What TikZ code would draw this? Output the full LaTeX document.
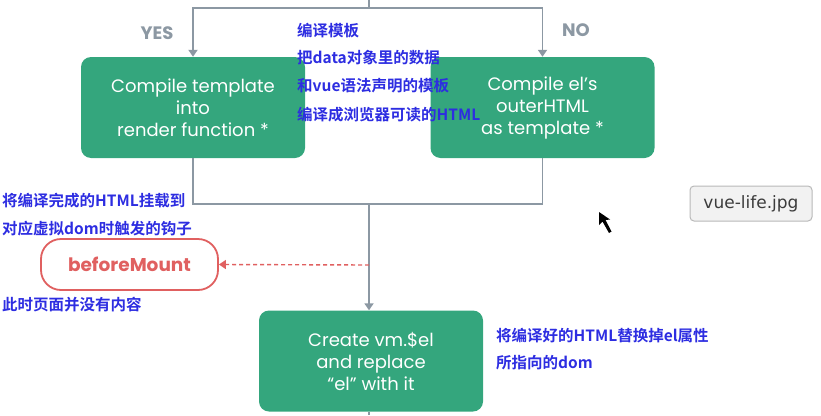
\documentclass[tikz,border=0pt]{standalone}
\usepackage{fontspec}
\setmainfont{Poppins}
\newfontfamily\cjk{Noto Sans CJK SC}[BoldFont={* Bold}]
\newfontfamily\tipfont{DejaVu Sans}
\usetikzlibrary{arrows.meta}
\definecolor{vgreen}{RGB}{52,166,125}
\definecolor{vgray}{RGB}{140,152,163}
\definecolor{vred}{RGB}{224,96,96}
\definecolor{vblue}{RGB}{45,45,225}
\tikzset{
  box/.style={draw=none, fill=vgreen, rounded corners=10pt, minimum width=224pt, minimum height=101pt, text=white, align=center, font=\fontsize{18}{22}\selectfont, inner sep=0pt},
  flow/.style={draw=vgray, line width=1.8pt},
  flowarr/.style={flow, -{Triangle[width=9pt,length=7pt]}},
  note/.style={anchor=west, inner sep=0pt, text=vblue, font=\cjk\bfseries\fontsize{15.5}{18}\selectfont},
  lbl/.style={text=vgray, font=\bfseries\fontsize{18}{20}\selectfont, inner sep=0pt},
  hook/.style={draw=vred, line width=1.8pt, fill=white, rounded corners=20pt, minimum width=177pt, minimum height=51pt, text=vred, font=\bfseries\fontsize{18.5}{20}\selectfont},
}
\begin{document}
\begin{tikzpicture}[x=1pt,y=-1pt]
\useasboundingbox (0,0) rectangle (821,415);
% boxes
\node[box] (ctpl) at (193,107.5) {Compile template\\into\\render function *};
\node[box] (cel) at (542.5,107.5) {Compile el’s\\outerHTML\\as template *};
\node[box] (cvm) at (371,361) {Create vm.\$el\\and replace\\“el” with it};
\node[hook] (bm) at (129.5,264.5) {beforeMount};
% labels
\node[lbl] (yes) at (157,33) {YES};
\node[lbl] (no) at (576,30) {NO};
% connectors
\coordinate (top) at (369,0);
\coordinate (split) at (369,8);
\coordinate (join) at (369,204);
\coordinate (bot) at (369,415);
\coordinate (tap) at (369,265);
\draw[flow] (top) -- (split);
\draw[flowarr] (split) -| (ctpl.north);
\draw[flowarr] (split) -| (cel.north);
\draw[flow] (ctpl.south) |- (join);
\draw[flow] (cel.south) |- (join);
\draw[flowarr] (join) -- (cvm.north -| join);
\draw[flow] (cvm.south -| join) -- (bot);
\draw[draw=vred, line width=1.4pt, dash pattern=on 4pt off 3pt, -{Triangle[width=9pt,length=7pt]}] (tap) -- (bm.east);
% notes
\node[note] (n1) at (297,31) {编译模板};
\node[note] (n2) at (297,58) {把data对象里的数据};
\node[note] (n3) at (297,86) {和vue语法声明的模板};
\node[note] (n4) at (297,115) {编译成浏览器可读的HTML};
\node[note] (n5) at (2,201) {将编译完成的HTML挂载到};
\node[note] (n6) at (2,229) {对应虚拟dom时触发的钩子};
\node[note] (n7) at (2,305) {此时页面并没有内容};
\node[note] (n8) at (496,336) {将编译好的HTML替换掉el属性};
\node[note] (n9) at (496,363) {所指向的dom};
% tooltip
\node[draw={rgb,255:red,185;green,185;blue,185}, line width=1pt, fill={rgb,255:red,242;green,242;blue,242}, rounded corners=4pt, minimum width=122pt, minimum height=35pt, text={rgb,255:red,60;green,60;blue,60}, font=\tipfont\fontsize{17}{18}\selectfont] (tip) at (751,203.5) {vue-life.jpg};
% cursor
\fill[black] (599,212) -- (599,225) -- (602.5,221.5) -- (609,233) -- (611.5,231.5) -- (605.5,220) -- (610,219.5) -- cycle;
\end{tikzpicture}
\end{document}
